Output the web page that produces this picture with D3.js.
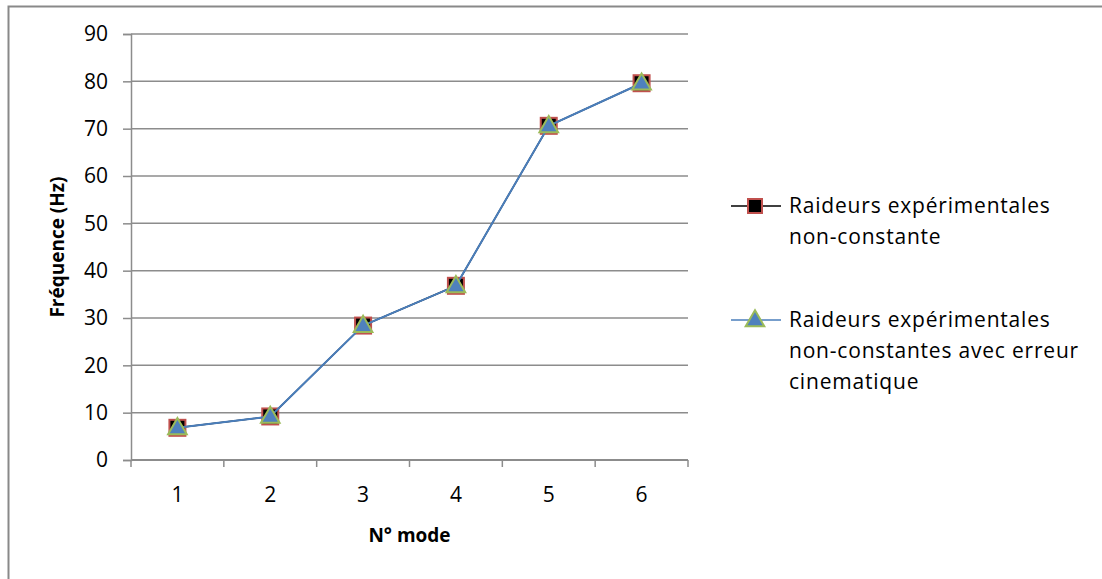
<!DOCTYPE html>
<html>
<head>
<meta charset="utf-8">
<script src="https://cdn.jsdelivr.net/npm/d3@7"></script>
<style>
  body { margin: 0; background: #fff; }
  svg { font-family: "Open Sans", sans-serif; }
</style>
</head>
<body>
<svg id="chart" width="1102" height="579"></svg>
<script>
var modes = [1, 2, 3, 4, 5, 6];
var seriesA = [6.8, 9.2, 28.4, 36.8, 70.6, 79.6];
var seriesB = [6.8, 9.2, 28.4, 36.8, 70.6, 79.6];
var yTicks = [0, 10, 20, 30, 40, 50, 60, 70, 80, 90];
var legendLabels = [
    ["Raideurs expérimentales", "non-constante"],
    ["Raideurs expérimentales", "non-constantes avec erreur", "cinematique"]
];

var svg = d3.select("#chart");

// outer chart border (runs off right and bottom)
svg.append("rect")
    .attr("x", 8.5).attr("y", 6.5)
    .attr("width", 1200).attr("height", 700)
    .attr("fill", "none").attr("stroke", "#898989").attr("stroke-width", 2);

var plotL = 131, plotR = 688, plotT = 34, plotB = 460;

var x = d3.scaleBand().domain(modes).range([plotL, plotR]);
var y = d3.scaleLinear().domain([0, 90]).range([plotB, plotT]);

// gridlines
svg.append("g")
    .selectAll("line")
    .data(yTicks.filter(function (d) { return d > 0; }))
    .enter().append("line")
    .attr("x1", plotL).attr("x2", plotR)
    .attr("y1", function (d) { return y(d); })
    .attr("y2", function (d) { return y(d); })
    .attr("stroke", "#8c8c8c").attr("stroke-width", 1.5);

// y axis
var yAxis = svg.append("g")
    .attr("transform", "translate(" + plotL + ",0)")
    .call(d3.axisLeft(y).tickValues(yTicks).tickSize(8).tickPadding(15));
yAxis.select(".domain").attr("stroke", "#8c8c8c").attr("stroke-width", 1.5);
yAxis.selectAll(".tick line").attr("stroke", "#8c8c8c").attr("stroke-width", 1.5);
yAxis.selectAll("text").attr("font-size", 21).attr("fill", "#000")
    .attr("font-family", "'Open Sans', sans-serif");

// x axis
svg.append("line")
    .attr("x1", plotL).attr("x2", plotR)
    .attr("y1", plotB).attr("y2", plotB)
    .attr("stroke", "#8c8c8c").attr("stroke-width", 2);
svg.append("g")
    .selectAll("line")
    .data(d3.range(modes.length + 1))
    .enter().append("line")
    .attr("x1", function (i) { return plotL + i * x.step(); })
    .attr("x2", function (i) { return plotL + i * x.step(); })
    .attr("y1", plotB).attr("y2", plotB + 7)
    .attr("stroke", "#8c8c8c").attr("stroke-width", 1.5);
svg.append("g")
    .selectAll("text")
    .data(modes)
    .enter().append("text")
    .attr("x", function (d) { return x(d) + x.bandwidth() / 2; })
    .attr("y", 502)
    .attr("text-anchor", "middle")
    .attr("font-size", 21)
    .text(function (d) { return d; });

// axis titles
svg.append("text")
    .attr("x", (plotL + plotR) / 2).attr("y", 542)
    .attr("text-anchor", "middle")
    .attr("font-size", 19).attr("font-weight", "bold")
    .text("N° mode");
svg.append("text")
    .attr("transform", "translate(64," + ((plotT + plotB) / 2) + ") rotate(-90)")
    .attr("text-anchor", "middle")
    .attr("font-size", 19).attr("font-weight", "bold")
    .text("Fréquence (Hz)");

var cx = function (d, i) { return x(modes[i]) + x.bandwidth() / 2; };
var line = d3.line()
    .x(function (d, i) { return cx(d, i); })
    .y(function (d) { return y(d); });

// series A: black line, black square with red border
svg.append("path")
    .datum(seriesA)
    .attr("d", line)
    .attr("fill", "none").attr("stroke", "#000").attr("stroke-width", 1.5);
svg.append("g")
    .selectAll("rect")
    .data(seriesA)
    .enter().append("rect")
    .attr("x", function (d, i) { return cx(d, i) - 8; })
    .attr("y", function (d) { return y(d) - 8; })
    .attr("width", 16).attr("height", 16)
    .attr("fill", "#000").attr("stroke", "#c0504d").attr("stroke-width", 2);

// series B: blue line, blue triangle with green border
var tri = d3.symbol().type(d3.symbolTriangle).size(150);
svg.append("path")
    .datum(seriesB)
    .attr("d", line)
    .attr("fill", "none").attr("stroke", "#4a7ebb").attr("stroke-width", 2);
svg.append("g")
    .selectAll("path")
    .data(seriesB)
    .enter().append("path")
    .attr("d", tri)
    .attr("transform", function (d, i) { return "translate(" + cx(d, i) + "," + (y(d) + 1) + ")"; })
    .attr("fill", "#4f81bd").attr("stroke", "#9bbb59").attr("stroke-width", 2);

// legend
var lg = svg.append("g");
var ly = [206, 320];
lg.append("line").attr("x1", 731).attr("x2", 781).attr("y1", ly[0]).attr("y2", ly[0])
    .attr("stroke", "#000").attr("stroke-width", 1.5);
lg.append("rect").attr("x", 748).attr("y", ly[0] - 7).attr("width", 14).attr("height", 14)
    .attr("fill", "#000").attr("stroke", "#c0504d").attr("stroke-width", 2);
lg.append("line").attr("x1", 731).attr("x2", 781).attr("y1", ly[1]).attr("y2", ly[1])
    .attr("stroke", "#4a7ebb").attr("stroke-width", 1.5);
lg.append("path").attr("d", tri)
    .attr("transform", "translate(755," + (ly[1] + 1) + ")")
    .attr("fill", "#4f81bd").attr("stroke", "#9bbb59").attr("stroke-width", 2);

var lBase = [213, 327];
legendLabels.forEach(function (lines, k) {
    var t = lg.append("text")
        .attr("x", 789).attr("y", lBase[k])
        .attr("font-size", 21)
        .attr("letter-spacing", 0.8);
    lines.forEach(function (s, j) {
        t.append("tspan").attr("x", 789).attr("dy", j === 0 ? 0 : 31).text(s);
    });
});
</script>
</body>
</html>
